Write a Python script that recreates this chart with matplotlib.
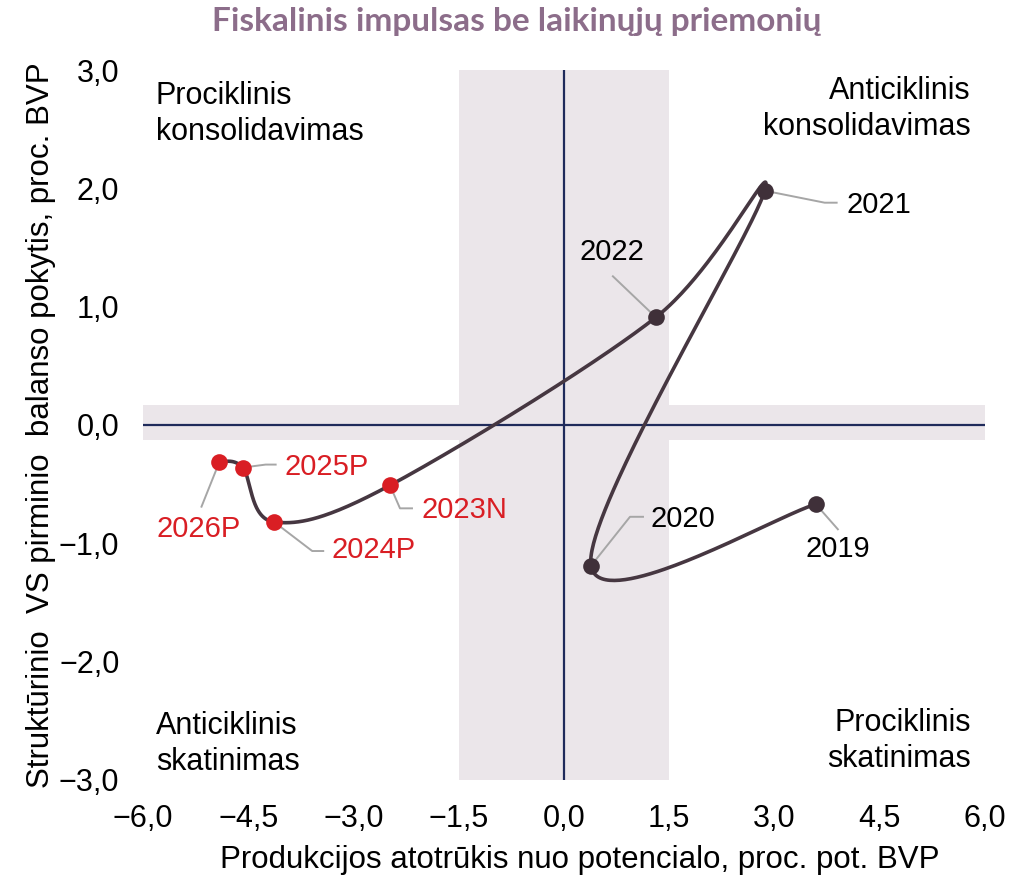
import numpy as np
import matplotlib
matplotlib.use("Agg")
import matplotlib.pyplot as plt
from matplotlib import font_manager as fm

years = ["2019", "2020", "2021", "2022", "2023N", "2024P", "2025P", "2026P"]
output_gap = [3.59, 0.385, 2.86, 1.31, -2.48, -4.13, -4.58, -4.91]
balance_change = [-0.67, -1.19, 1.98, 0.91, -0.51, -0.82, -0.36, -0.31]
is_forecast = [False, False, False, False, True, True, True, True]

x_ticks = [-6.0, -4.5, -3.0, -1.5, 0.0, 1.5, 3.0, 4.5, 6.0]
y_ticks = [-3.0, -2.0, -1.0, 0.0, 1.0, 2.0, 3.0]
band_x = (-1.5, 1.5)
band_y = (-0.13, 0.17)

names = {f.name for f in fm.fontManager.ttflist}
narrow = "Liberation Sans Narrow" if "Liberation Sans Narrow" in names else "Liberation Sans"
regular = "Liberation Sans"
title_font = "Lato" if "Lato" in names else "DejaVu Sans"

def fmt(v):
    s = f"{v:.1f}".replace(".", ",")
    return s.replace("-", "\u2212")

fig = plt.figure(figsize=(10.1, 8.75), dpi=100)
ax = fig.add_axes([0.1416, 0.1086, 0.8336, 0.8114])
ax.set_xlim(-6, 6)
ax.set_ylim(-3, 3)

band_col = "#ebe6ea"
ax.axvspan(*band_x, color=band_col, zorder=0, lw=0)
ax.axhspan(*band_y, color=band_col, zorder=0, lw=0)
ax.axhline(0, color="#1f2b5b", lw=1.6, zorder=1)
ax.axvline(0, color="#1f2b5b", lw=1.6, zorder=1)

for s in ax.spines.values():
    s.set_visible(False)
ax.set_xticks(x_ticks)
ax.set_yticks(y_ticks)
ax.set_xticklabels([fmt(v) for v in x_ticks], fontfamily=narrow, fontsize=22)
ax.set_yticklabels([fmt(v) for v in y_ticks], fontfamily=regular, fontsize=22)
ax.tick_params(axis="y", length=0, pad=17)
ax.tick_params(axis="x", length=0, pad=17)
ax.set_xlabel("Produkcijos atotrūkis nuo potencialo, proc. pot. BVP", fontfamily=narrow,
              fontsize=22.5)
ax.set_ylabel("Struktūrinio  VS pirminio  balanso pokytis, proc. BVP", fontfamily=narrow,
              fontsize=22.5)
ax.xaxis.set_label_coords(0.519, -0.092)
ax.yaxis.set_label_coords(-0.103, 0.5)

# Catmull-Rom (Excel-style smoothing)
P = np.column_stack([output_gap, balance_change])
n = len(P)
ext = np.vstack([P[0], P, P[-1]])
curve = []
t = np.linspace(0, 1, 80)
for i in range(n - 1):
    p0, p1, p2, p3 = ext[i], ext[i + 1], ext[i + 2], ext[i + 3]
    c1 = p1 + (p2 - p0) / 6
    c2 = p2 - (p3 - p1) / 6
    seg = ((1 - t) ** 3)[:, None] * p1 + (3 * (1 - t) ** 2 * t)[:, None] * c1 \
        + (3 * (1 - t) * t ** 2)[:, None] * c2 + (t ** 3)[:, None] * p2
    curve.append(seg)
curve = np.vstack(curve)
ax.plot(curve[:, 0], curve[:, 1], color="#463741", lw=2.6, zorder=3, solid_capstyle="round")

dark = "#3f3039"
red = "#d91e24"
for x, y, f in zip(output_gap, balance_change, is_forecast):
    ax.plot(x, y, "o", ms=12, color=red if f else dark, zorder=4, mec="none")

# leader lines: (elbow dx, dy), (end dx, dy), text pos dx, dy, ha  in pixels (y up)
leaders = {
    "2019": [(22, -25), (22, -25), (22, -45), "center"],
    "2020": [(39, 49), (52, 49), (60, 47), "left"],
    "2021": [(60, -12), (72, -12), (82, -14), "left"],
    "2022": [(-43, 41), (-43, 41), (-44, 65), "center"],
    "2023N": [(10, -23), (22, -23), (32, -25), "left"],
    "2024P": [(38, -29), (49, -29), (57, -28), "left"],
    "2025P": [(23, 3), (33, 3), (42, 1), "left"],
    "2026P": [(-18, -45), (-18, -45), (-21, -67), "center"],
}
inv = ax.transData.inverted()
for yr, x, y, f in zip(years, output_gap, balance_change, is_forecast):
    e, en, tp, ha = leaders[yr]
    px, py = ax.transData.transform((x, y))
    pts = [(px, py), (px + e[0], py + e[1]), (px + en[0], py + en[1])]
    d = inv.transform(pts)
    ax.plot(d[:, 0], d[:, 1], color="#a6a6a6", lw=1.4, zorder=3.5)
    tx, ty = inv.transform((px + tp[0], py + tp[1]))
    ax.text(tx, ty, yr, ha=ha, va="center", fontsize=21, fontfamily=regular,
            color=red if f else "black", zorder=5)

qkw = dict(fontsize=22, fontfamily=regular, color="black", linespacing=1.22,
           va="center", transform=fig.transFigure)
fig.text(156 / 1010, 1 - 114 / 875, "Prociklinis\nkonsolidavimas", ha="left", **qkw)
fig.text(971 / 1010, 1 - 109 / 875, "Anticiklinis\nkonsolidavimas", ha="right", **qkw)
fig.text(156 / 1010, 1 - 744 / 875, "Anticiklinis\nskatinimas", ha="left", **qkw)
fig.text(971 / 1010, 1 - 741 / 875, "Prociklinis\nskatinimas", ha="right", **qkw)

fig.text(517 / 1010, 1 - 22 / 875, "Fiskalinis impulsas be laikinųjų priemonių",
         ha="center", va="center", fontsize=24, fontweight="bold", fontfamily=title_font,
         color="#8c6d8a")

fig.savefig("out.png", dpi=100)
